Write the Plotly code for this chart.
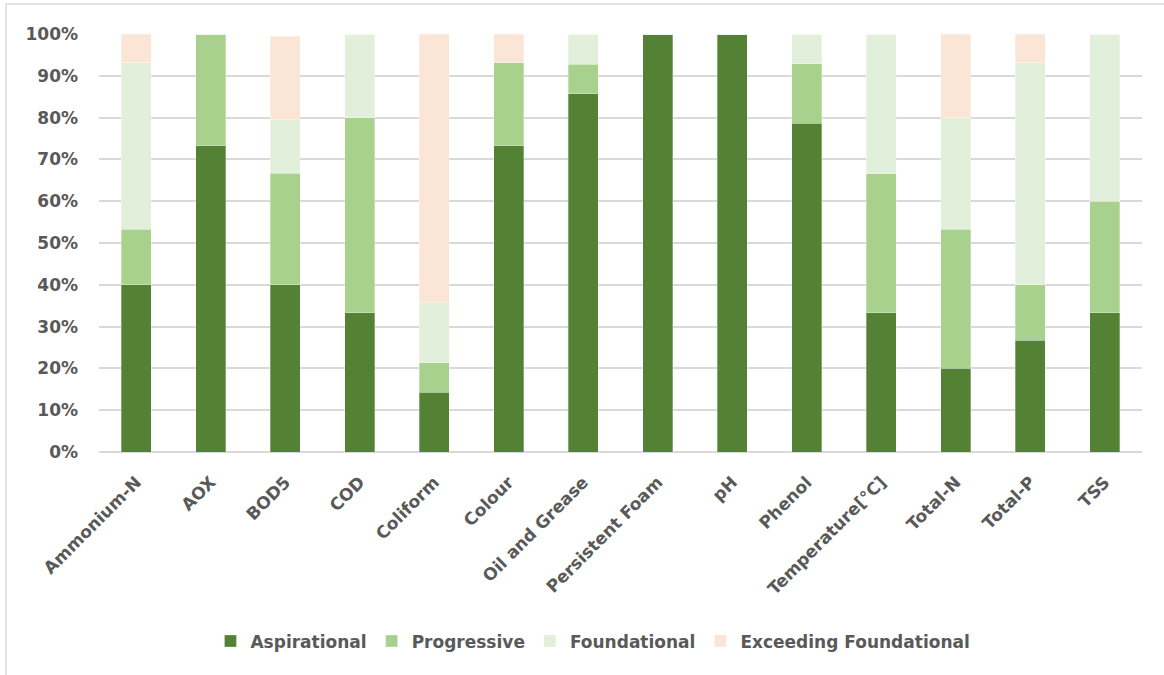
import plotly.graph_objects as go

# Parameters assessed
categories = ["Ammonium-N", "AOX", "BOD5", "COD", "Coliform", "Colour",
              "Oil and Grease", "Persistent Foam", "pH", "Phenol",
              "Temperature[°C]", "Total-N", "Total-P", "TSS"]

# Share of results in each performance band (%)
aspirational = [40.0, 73.3, 40.0, 33.3, 14.3, 73.3, 85.7, 100.0, 100.0, 78.6, 33.3, 20.0, 26.7, 33.3]
progressive = [13.3, 26.7, 26.7, 46.7, 7.1, 20.0, 7.1, 0.0, 0.0, 14.3, 33.3, 33.3, 13.3, 26.7]
foundational = [40.0, 0.0, 12.8, 20.0, 14.3, 0.0, 7.2, 0.0, 0.0, 7.1, 33.4, 26.7, 53.3, 40.0]
exceeding = [6.7, 0.0, 20.0, 0.0, 64.3, 6.7, 0.0, 0.0, 0.0, 0.0, 0.0, 20.0, 6.7, 0.0]

series_names = ["Aspirational", "Progressive", "Foundational", "Exceeding Foundational"]
series_values = [aspirational, progressive, foundational, exceeding]
series_colors = ["#548235", "#A9D18E", "#E2EFDA", "#FBE5D6"]

text_color = "#595959"
font_family = "'DejaVu Sans', Verdana, sans-serif"
label_font = dict(family=font_family, size=17, color=text_color, weight="bold")

fig = go.Figure()
for name, vals, color in zip(series_names, series_values, series_colors):
    fig.add_trace(go.Bar(
        name=name,
        x=categories,
        y=vals,
        marker=dict(color=color, line=dict(width=0.6, color="rgba(255,255,255,0.5)")),
        hovertemplate="%{x}: %{y:.1f}%<extra>" + name + "</extra>",
    ))

fig.update_layout(
    barmode="stack",
    bargap=0.6,
    width=1164,
    height=675,
    margin=dict(l=99, r=22, t=34, b=223),
    paper_bgcolor="white",
    plot_bgcolor="white",
    font=dict(family=font_family, color=text_color, size=17),
    showlegend=True,
    legend=dict(
        orientation="h",
        x=0.4736, xanchor="center",
        y=-0.41, yanchor="top",
        font=label_font,
        traceorder="normal",
        itemwidth=30,
    ),
    xaxis=dict(
        tickangle=-45,
        tickfont=label_font,
        showgrid=False,
        showline=False,
        ticks="",
        ticklabelstandoff=16,
        fixedrange=True,
    ),
    yaxis=dict(
        range=[0, 100],
        dtick=10,
        ticksuffix="%",
        tickfont=label_font,
        showgrid=True,
        gridcolor="#D9D9D9",
        gridwidth=1.5,
        zeroline=True,
        zerolinecolor="#D9D9D9",
        zerolinewidth=1.5,
        ticks="",
        ticklabelstandoff=20,
        fixedrange=True,
    ),
    shapes=[dict(
        type="rect", xref="paper", yref="paper",
        x0=-0.0892, x1=1.03, y0=-0.56, y1=1.0718,
        line=dict(color="#D9D9D9", width=1.5),
        fillcolor="rgba(0,0,0,0)",
        layer="below",
    )],
)

fig.write_html("out.html")
